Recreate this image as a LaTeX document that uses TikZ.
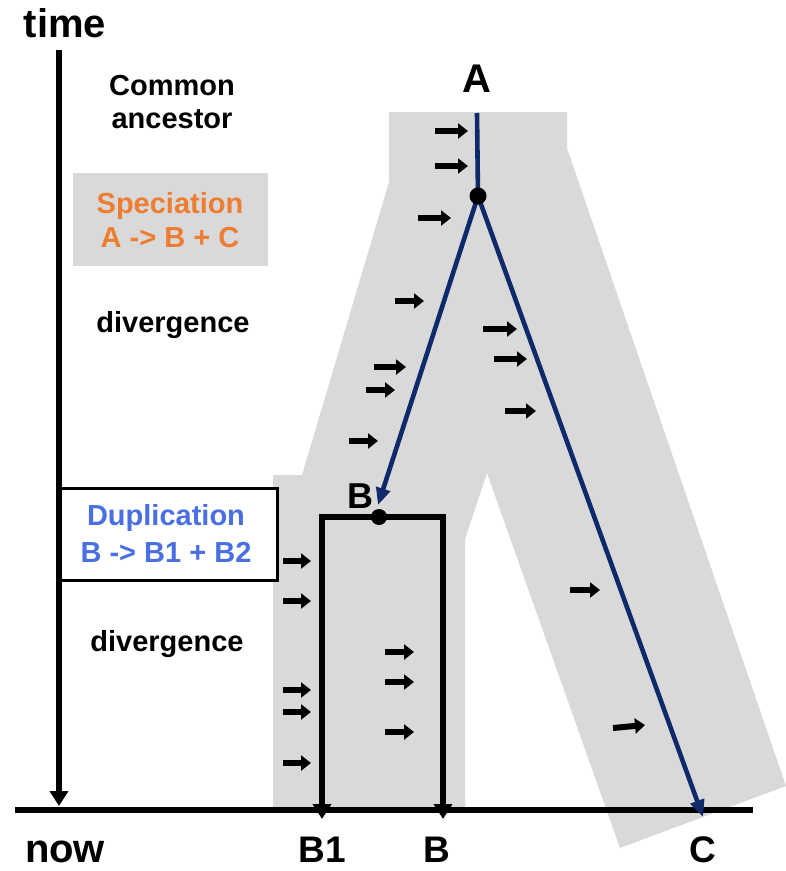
\documentclass[tikz,border=0pt]{standalone}
\usepackage{fontspec}
\setmainfont{Liberation Sans}
\usetikzlibrary{arrows.meta}
\definecolor{bandgrey}{HTML}{D9D9D9}
\definecolor{navy}{HTML}{0F2A6A}
\definecolor{specorange}{HTML}{ED7D31}
\definecolor{dupblue}{HTML}{4A6FE3}
\tikzset{
 lbl/.style={font=\bfseries\fontsize{29}{33}\selectfont, align=center, inner sep=0pt, anchor=base},
 biglbl/.style={font=\bfseries\fontsize{40}{42}\selectfont, inner sep=0pt, anchor=base},
 mut/.style={line width=6pt, -{Triangle[length=10pt,width=15pt]}},
 tree/.style={navy, line width=4.6pt, -{Triangle[length=17pt,width=14pt]}},
 axisarrow/.style={line width=5.5pt, -{Triangle[length=15pt,width=18pt]}},
 dot/.style={circle, fill=black, minimum size=17pt, inner sep=0pt},
}
\begin{document}
\begin{tikzpicture}[x=1pt,y=-1pt]
\useasboundingbox (0,0) rectangle (786,871);
% grey bands
\fill[bandgrey] (389,112) -- (567,112) -- (567,148) -- (786,786) -- (620,848) -- (487,473) -- (465,539) -- (465,808) -- (273,808) -- (273,475) -- (302,475) -- (389,182) -- cycle;
% speciation box
\node[fill=bandgrey, minimum width=195pt, minimum height=93pt, inner sep=0pt] (spec) at (170.5,219.5) {};
\node[lbl, text=specorange, font=\bfseries\fontsize{29}{34}\selectfont] (spectext) at (170,247) {Speciation\\A -> B + C};
% duplication box
\node[draw, line width=3pt, fill=white, minimum width=217pt, minimum height=92pt, inner sep=0pt] (dup) at (168.5,534) {};
\node[lbl, text=dupblue, font=\bfseries\fontsize{29}{37}\selectfont] (duptext) at (166,562) {Duplication\\B -> B1 + B2};
% labels
\node[lbl] (common) at (172,128) {Common\\ancestor};
\node[lbl] (div1) at (173,332) {divergence};
\node[lbl] (div2) at (167,651) {divergence};
\node[biglbl] (time) at (65,37) {time};
\node[biglbl] (now) at (65,862) {now};
\node[biglbl, font=\bfseries\fontsize{37}{40}\selectfont] (labB1) at (322,862) {B1};
\node[biglbl, font=\bfseries\fontsize{37}{40}\selectfont] (labB) at (437,862) {B};
\node[biglbl, font=\bfseries\fontsize{37}{40}\selectfont] (labC) at (703,862) {C};
\node[biglbl, font=\bfseries\fontsize{40}{40}\selectfont] (labA) at (477,92) {A};
\node[biglbl, font=\bfseries\fontsize{36}{40}\selectfont] (labBtop) at (360,508) {B};
% mutation arrows
\foreach \x/\y/\l in {435/131/33, 435/166/33, 418/218/33, 395/301/29, 374/367/32, 366/390/29, 349/441/29,
  483/329/34, 494/359/33, 505/411/31, 570/590/30,
  283/561/28, 283/601/28, 283/690/28, 283/712/28, 283/763/28,
  385/652/29, 385/682/29, 385/732/29}
  \draw[mut] (\x,\y) -- ++(\l,0);
\draw[mut] (613,728) -- (645,725);
% time axis and now line
\coordinate (tTop) at (59,50);
\coordinate (tBot) at (59,806);
\draw[axisarrow] (tTop) -- (tBot);
\coordinate (nowL) at (15,810);
\coordinate (nowR) at (753,810);
\draw[line width=5.5pt] (nowL) -- (nowR);
% duplication tree (black)
\coordinate (B1end) at (322,819);
\coordinate (B2end) at (443,819);
\coordinate (boxL) at (322,517);
\coordinate (boxR) at (443,517);
\draw[line width=5.5pt, line join=miter, {Triangle[length=15pt,width=18pt]}-{Triangle[length=15pt,width=18pt]}] (B1end) -- (boxL) -- (boxR) -- (B2end);
% speciation tree (navy)
\coordinate (Atop) at (477,113);
\coordinate (Btip) at (378,505);
\coordinate (Ctip) at (703,817);
\coordinate (Asplit) at (478,196);
\draw[navy, line width=4.6pt] (Atop) -- (Asplit);
\draw[tree] (Asplit) -- (Btip);
\draw[tree] (Asplit) -- (Ctip);
\node[dot] (Adot) at (Asplit) {};
\node[dot, minimum size=16pt] (Bdot) at (379,517) {};
\end{tikzpicture}
\end{document}
